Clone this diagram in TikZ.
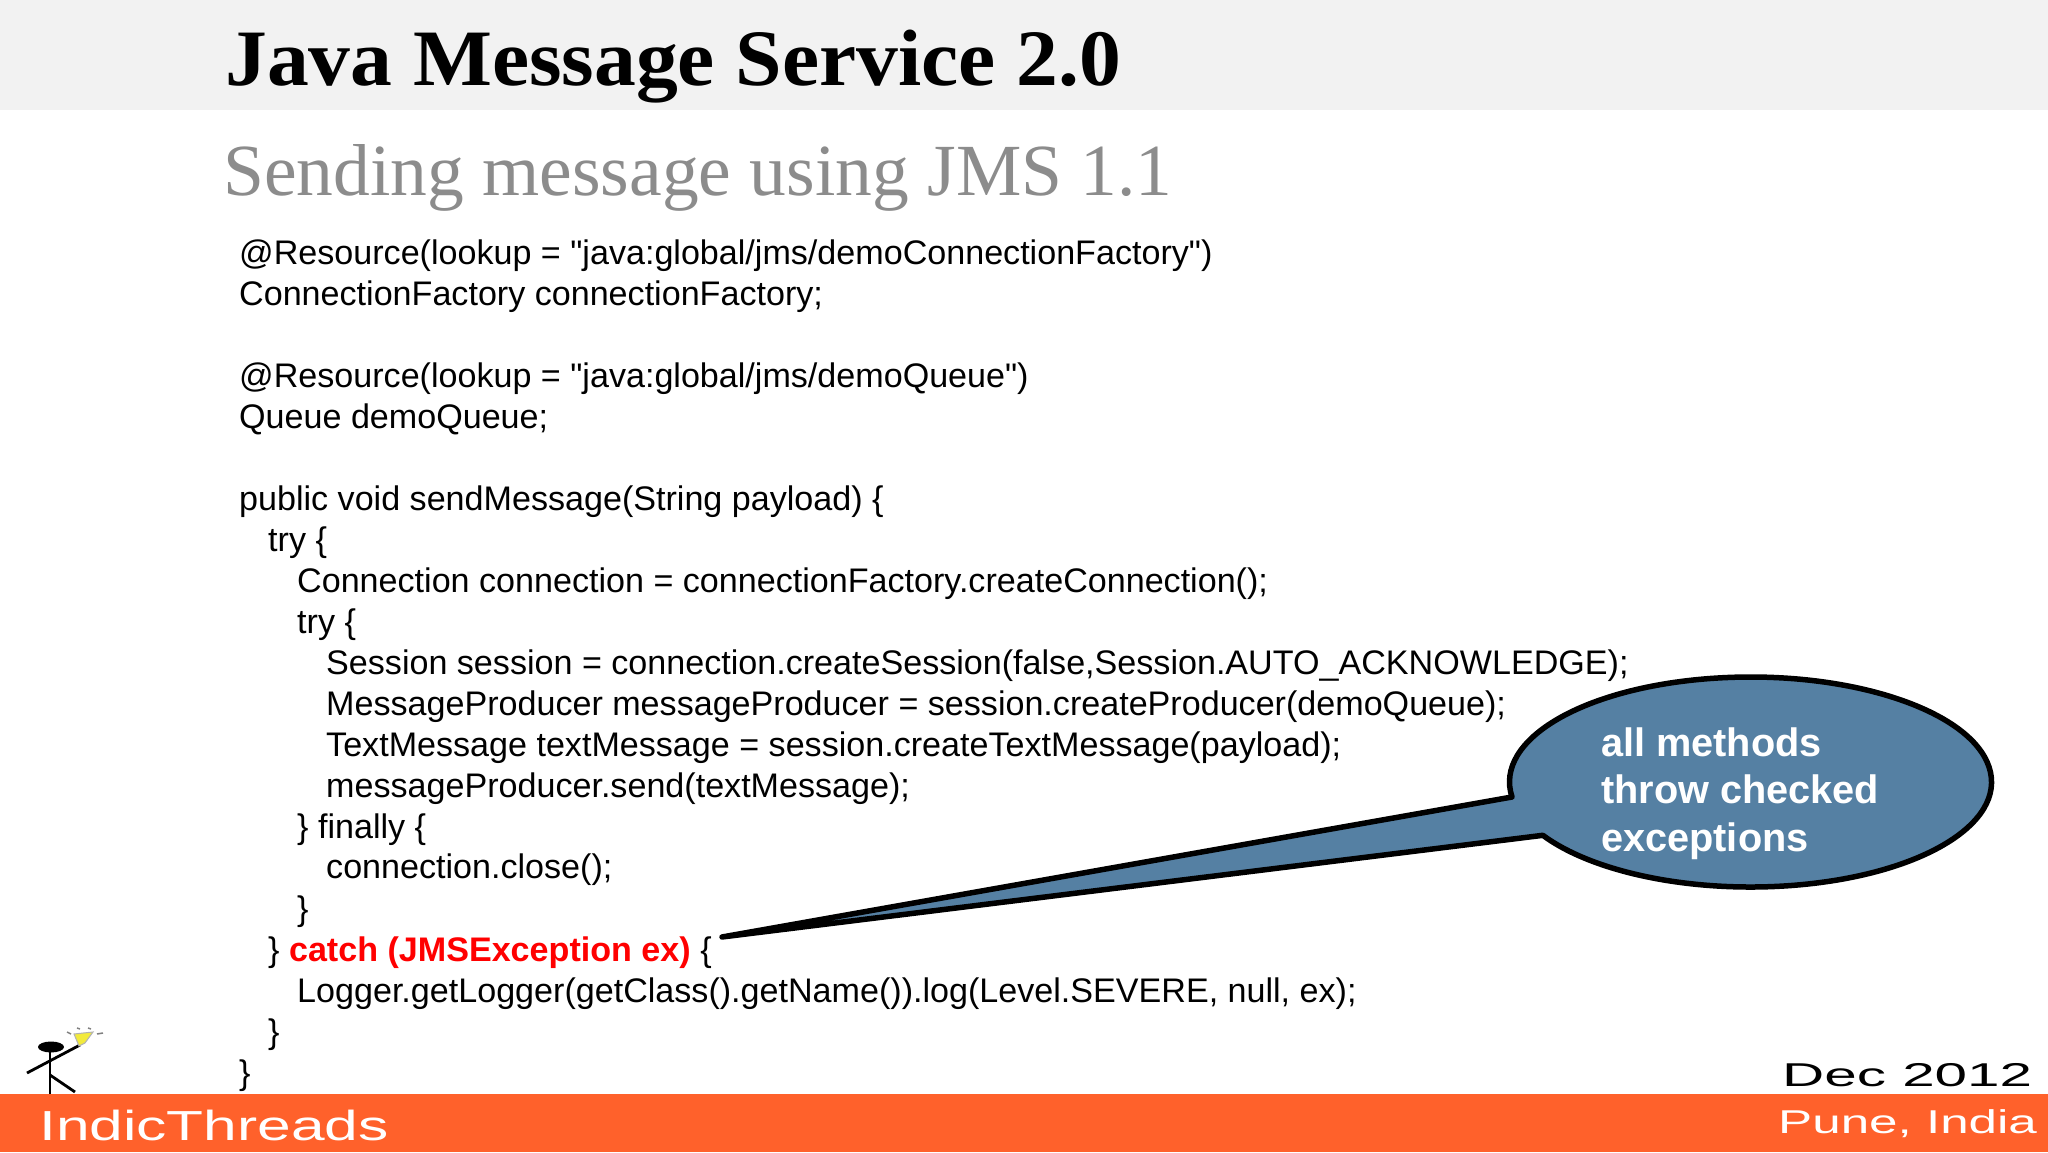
\documentclass[tikz,border=0pt]{standalone}
\usepackage{fontspec}
\newfontfamily\codefont{Liberation Sans}
\newfontfamily\titlefont[FakeStretch=1.045]{Liberation Serif}
\newfontfamily\subfont{Liberation Serif}
\newfontfamily\footfont[FakeStretch=1.44]{Liberation Sans}
\newfontfamily\datefont[FakeStretch=1.77]{Liberation Sans}
\newfontfamily\placefont[FakeStretch=1.55]{Liberation Sans}
\definecolor{bandgray}{HTML}{F2F2F2}
\definecolor{subgray}{HTML}{8C8C8C}
\definecolor{footorange}{HTML}{FF612B}
\definecolor{bubbleblue}{HTML}{5580A3}
\definecolor{bulbyellow}{HTML}{F2EA3C}
\tikzset{
  codeline/.style={anchor=base west,inner sep=0pt,font=\codefont\fontsize{34.1}{40}\selectfont},
  banner/.style={anchor=base west,inner sep=0pt,font=\titlefont\bfseries\fontsize{80}{84}\selectfont},
  subbanner/.style={anchor=base west,inner sep=0pt,text=subgray,font=\subfont\fontsize{73.5}{80}\selectfont},
  bubbletext/.style={anchor=base west,inner sep=0pt,text=white,font=\codefont\bfseries\fontsize{39.7}{47}\selectfont},
  foottext/.style={anchor=base west,inner sep=0pt,font=\footfont\fontsize{42}{44}\selectfont},
  figure/.style={draw=black,line width=2.8pt}
}
\begin{document}
\begin{tikzpicture}[x=1pt,y=1pt]
        \useasboundingbox (0,0) rectangle (2048,1152) ;
        \fill[white] (0,0) rectangle (2048,1152) ;
        \fill[bandgray] (0,1042) rectangle (2048,1152) ;
        \fill[footorange] (0,0) rectangle (2048,58) ;
        % headings
        \node[banner] (title) at (225,1066) {Java Message Service 2.0} ;
        \node[subbanner] (subtitle) at (223,956) {Sending message using JMS 1.1} ;
        % code lines
        \node[codeline] (resA) at (239,887) {@Resource(lookup = "java:global/jms/demoConnectionFactory")} ;
        \node[codeline] (factory) at (239,846) {ConnectionFactory connectionFactory;} ;
        \node[codeline] (resB) at (239,764) {@Resource(lookup = "java:global/jms/demoQueue")} ;
        \node[codeline] (queue) at (239,723) {Queue demoQueue;} ;
        \node[codeline] (method) at (239,641) {public void sendMessage(String payload) \{} ;
        \node[codeline] (tryA) at (268,600) {try \{} ;
        \node[codeline] (conn) at (297,559) {Connection connection = connectionFactory.createConnection();} ;
        \node[codeline] (tryB) at (297,518) {try \{} ;
        \node[codeline] (session) at (326,477) {Session session = connection.createSession(false,Session.AUTO\_ACKNOWLEDGE);} ;
        \node[codeline] (producer) at (326,436) {MessageProducer messageProducer = session.createProducer(demoQueue);} ;
        \node[codeline] (message) at (326,395) {TextMessage textMessage = session.createTextMessage(payload);} ;
        \node[codeline] (send) at (326,354) {messageProducer.send(textMessage);} ;
        \node[codeline] (finally) at (297,313.5) {\} finally \{} ;
        \node[codeline] (close) at (326,273) {connection.close();} ;
        \node[codeline] (endB) at (297,232) {\}} ;
        \node[codeline] (catch) at (268,191) {\} \textcolor{red}{\bfseries catch (JMSException ex)} \{} ;
        \node[codeline] (logger) at (297,150) {Logger.getLogger(getClass().getName()).log(Level.SEVERE, null, ex);} ;
        \node[codeline] (endA) at (268,109) {\}} ;
        \node[codeline] (endM) at (239,68) {\}} ;
        % callout
        \draw[fill=bubbleblue,line width=5.5pt,line join=round]
        (722,215)--(1512,355) arc[start angle=188.2,end angle=-149.5,x radius=241,y radius=105]--cycle ;
        \node[bubbletext] (bubA) at (1601,395) {all methods} ;
        \node[bubbletext] (bubB) at (1601,348) {throw checked} ;
        \node[bubbletext] (bubC) at (1601,300) {exceptions} ;
        % stick figure
        \fill[black] (51,105) ellipse (13 and 5.5) ;
        \draw[figure] (50,102)--(50,58) ;
        \draw[figure] (27,79)--(80,107) ;
        \draw[figure] (50,77)--(75,60) ;
        \draw[fill=bulbyellow,draw=gray!60,line width=1pt] (74,118)--(93,120)--(85,109)--(79,106)--cycle ;
        \draw[gray,line width=1.5pt] (67,120)--(71,118) (77,124)--(80,123) (88,124)--(91,123) (97,118)--(103,119) ;
        % footer
        \node[foottext,text=white] (brand) at (39,12) {IndicThreads} ;
        \node[foottext,font=\datefont\fontsize{33}{36}\selectfont] (date) at (1782,66) {Dec 2012} ;
        \node[foottext,text=white,font=\placefont\fontsize{33}{36}\selectfont] (place) at (1778,19) {Pune, India} ;
      \end{tikzpicture}
\end{document}
